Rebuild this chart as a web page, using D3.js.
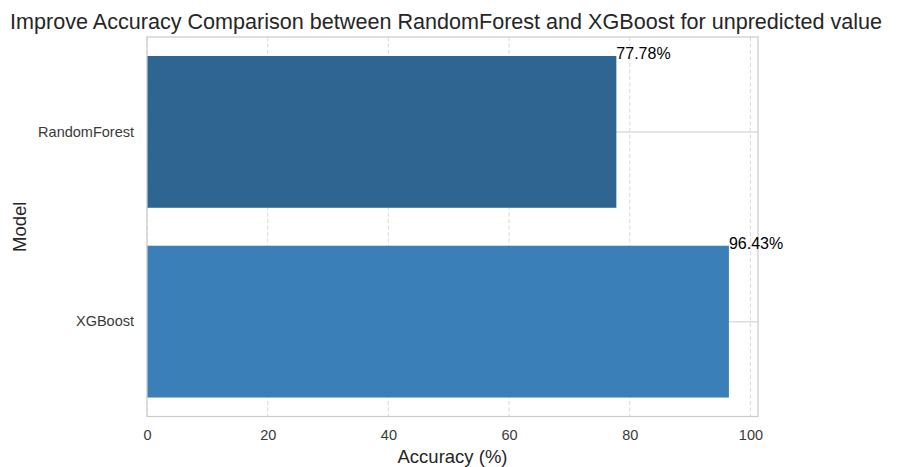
<!DOCTYPE html>
<html>
<head>
<meta charset="utf-8">
<script src="https://cdn.jsdelivr.net/npm/d3@7"></script>
<style>
  html, body { margin: 0; padding: 0; background: #fff; }
  svg { display: block; }
  text { font-family: "Liberation Sans", Arial, sans-serif; }
</style>
</head>
<body>
<svg id="chart" width="897" height="467"></svg>
<script>
const models = ["RandomForest", "XGBoost"];
const accuracy = [77.78, 96.43];
const barColors = ["#2f6591", "#3a7fb8"];
const xTicks = [0, 20, 40, 60, 80, 100];
const titleText = "Improve Accuracy Comparison between RandomForest and XGBoost for unpredicted value";
const xLabelText = "Accuracy (%)";
const yLabelText = "Model";

const svg = d3.select("#chart");
const plot = { left: 147, right: 758, top: 37, bottom: 416.5 };

const x = d3.scaleLinear()
  .domain([0, d3.max(accuracy) * 1.05])
  .range([plot.left, plot.right]);

const y = d3.scaleBand()
  .domain(models)
  .range([plot.top, plot.bottom])
  .paddingInner(0.2)
  .paddingOuter(0.1);

// gridlines (vertical dashed)
svg.append("g")
  .selectAll("line")
  .data(xTicks)
  .join("line")
  .attr("x1", d => x(d)).attr("x2", d => x(d))
  .attr("y1", plot.top).attr("y2", plot.bottom)
  .attr("stroke", "#dcdcdc")
  .attr("stroke-width", 1.1)
  .attr("stroke-dasharray", "4,2.5");

// horizontal solid gridlines at categories
svg.append("g")
  .selectAll("line")
  .data(models)
  .join("line")
  .attr("x1", plot.left).attr("x2", plot.right)
  .attr("y1", d => y(d) + y.bandwidth() / 2)
  .attr("y2", d => y(d) + y.bandwidth() / 2)
  .attr("stroke", "#dcdcdc")
  .attr("stroke-width", 1.5);

// bars
svg.append("g")
  .selectAll("rect")
  .data(models)
  .join("rect")
  .attr("x", x(0))
  .attr("y", d => y(d))
  .attr("width", (d, i) => x(accuracy[i]) - x(0))
  .attr("height", y.bandwidth())
  .attr("fill", (d, i) => barColors[i]);

// axes frame
svg.append("rect")
  .attr("x", plot.left).attr("y", plot.top)
  .attr("width", plot.right - plot.left)
  .attr("height", plot.bottom - plot.top)
  .attr("fill", "none")
  .attr("stroke", "#cccccc")
  .attr("stroke-width", 1.25);

// value labels
svg.append("g")
  .selectAll("text")
  .data(models)
  .join("text")
  .attr("x", (d, i) => x(accuracy[i]))
  .attr("y", d => y(d) + 3.5)
  .attr("font-size", "16px")
  .attr("fill", "#000")
  .text((d, i) => accuracy[i].toFixed(2) + "%");

// x axis
const xAxis = svg.append("g")
  .attr("transform", `translate(0,${plot.bottom})`)
  .call(d3.axisBottom(x).tickValues(xTicks).tickSize(0).tickPadding(13).tickFormat(d3.format("d")));
xAxis.select(".domain").remove();
xAxis.selectAll("text")
  .attr("font-size", "14.5px")
  .attr("fill", "#3a3a3a")
  .attr("font-family", "'Liberation Sans', Arial, sans-serif");

// y axis
const yAxis = svg.append("g")
  .attr("transform", `translate(${plot.left},0)`)
  .call(d3.axisLeft(y).tickSize(0).tickPadding(13));
yAxis.select(".domain").remove();
yAxis.selectAll("text")
  .attr("font-size", "14.5px")
  .attr("fill", "#3a3a3a")
  .attr("font-family", "'Liberation Sans', Arial, sans-serif");

// axis labels
svg.append("text")
  .attr("x", (plot.left + plot.right) / 2)
  .attr("y", 463)
  .attr("text-anchor", "middle")
  .attr("font-size", "18.5px")
  .attr("fill", "#262626")
  .text(xLabelText);

svg.append("text")
  .attr("transform", `translate(25.5,${(plot.top + plot.bottom) / 2}) rotate(-90)`)
  .attr("text-anchor", "middle")
  .attr("font-size", "18.5px")
  .attr("fill", "#262626")
  .text(yLabelText);

// title
const title = svg.append("text")
  .attr("x", 446)
  .attr("y", 29)
  .attr("text-anchor", "middle")
  .attr("font-size", "20px")
  .attr("fill", "#262626")
  .text(titleText);
const w = title.node().getComputedTextLength();
title.attr("font-size", (20 * 872 / w).toFixed(2) + "px");
</script>
</body>
</html>
